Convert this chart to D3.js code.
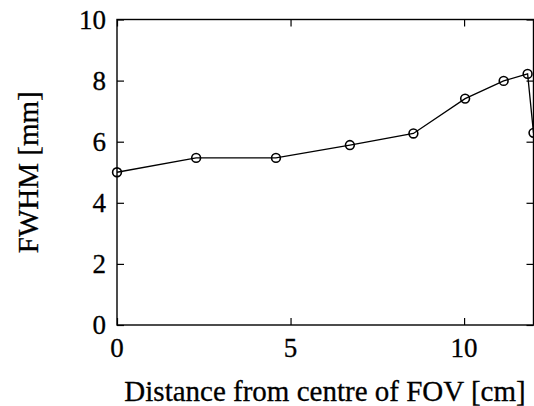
<!DOCTYPE html>
<html><head><meta charset="utf-8">
<script src="https://cdn.jsdelivr.net/npm/d3@7"></script>
<style>body{margin:0;background:#fff;} svg{display:block;}</style>
</head><body>
<svg id="chart" width="534" height="406"></svg>
<script>
const distance = [0, 2.28, 4.58, 6.71, 8.54, 10.03, 11.14, 11.83, 12.0];
const fwhm     = [5.0, 5.47, 5.47, 5.89, 6.27, 7.41, 7.99, 8.22, 6.29];
const xTicks = [0, 5, 10];
const yTicks = [0, 2, 4, 6, 8, 10];
const xLabel = "Distance from centre of FOV [cm]";
const yLabel = "FWHM [mm]";

const svg = d3.select("#chart");
const font = "Liberation Serif, Times New Roman, serif";
const x = d3.scaleLinear().domain([0, 12]).range([117, 533.5]);
const y = d3.scaleLinear().domain([0, 10]).range([325, 19.5]);

const g = svg.append("g");
// frame
g.append("rect").attr("x", x(0)).attr("y", y(10))
  .attr("width", x(12) - x(0)).attr("height", y(0) - y(10))
  .attr("fill", "none").attr("stroke", "#000").attr("stroke-width", 1.4);

const tl = 7;
g.append("g").attr("transform", `translate(0,${y(0)})`)
  .call(d3.axisBottom(x).tickValues(xTicks).tickSize(-tl).tickFormat(""))
  .call(a => a.select(".domain").remove());
g.append("g").attr("transform", `translate(0,${y(10)})`)
  .call(d3.axisTop(x).tickValues(xTicks).tickSize(-tl).tickFormat(""))
  .call(a => a.select(".domain").remove());
g.append("g").attr("transform", `translate(${x(0)},0)`)
  .call(d3.axisLeft(y).tickValues(yTicks).tickSize(-tl).tickFormat(""))
  .call(a => a.select(".domain").remove());
g.append("g").attr("transform", `translate(${x(12)},0)`)
  .call(d3.axisRight(y).tickValues(yTicks).tickSize(-tl).tickFormat(""))
  .call(a => a.select(".domain").remove());
g.selectAll(".tick line").attr("stroke", "#000").attr("stroke-width", 1.2);

const txt = sel => sel.attr("font-family", font).attr("fill", "#000")
  .attr("stroke", "#000").attr("stroke-width", 0.3);

// tick labels
g.selectAll(".xl").data(xTicks).enter().append("text")
  .attr("x", d => x(d)).attr("y", 357).attr("text-anchor", "middle")
  .attr("font-size", 27).call(txt).text(d => d);
g.selectAll(".yl").data(yTicks).enter().append("text")
  .attr("x", 106).attr("y", d => y(d) + 9).attr("text-anchor", "end")
  .attr("font-size", 27).call(txt).text(d => d);

// axis titles
g.append("text").attr("x", 325).attr("y", 401).attr("text-anchor", "middle")
  .attr("font-size", 29).call(txt).text(xLabel);
g.append("text").attr("transform", `translate(38,${(y(0)+y(10))/2}) rotate(-90)`)
  .attr("text-anchor", "middle")
  .attr("font-size", 29).call(txt).text(yLabel);

// data
const pts = distance.map((d, i) => [d, fwhm[i]]);
g.append("path").datum(pts)
  .attr("d", d3.line().x(d => x(d[0])).y(d => y(d[1])))
  .attr("fill", "none").attr("stroke", "#000").attr("stroke-width", 1.3);
g.selectAll(".pt").data(pts).enter().append("circle")
  .attr("cx", d => x(d[0])).attr("cy", d => y(d[1])).attr("r", 4.4)
  .attr("fill", "none").attr("stroke", "#000").attr("stroke-width", 1.6);
</script>
</body></html>
